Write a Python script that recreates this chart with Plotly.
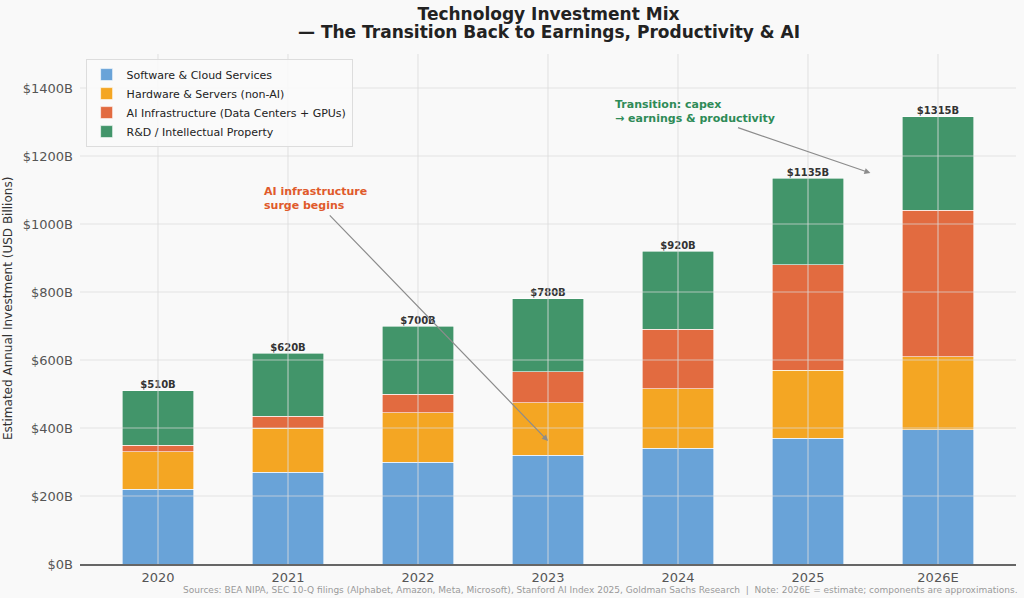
import plotly.graph_objects as go

# Data (USD billions)
years = ["2020", "2021", "2022", "2023", "2024", "2025", "2026E"]
software = [220, 270, 300, 320, 340, 370, 395]
hardware = [110, 130, 145, 155, 175, 200, 215]
ai_infra = [20, 35, 55, 90, 175, 310, 430]
rnd = [160, 185, 200, 215, 230, 255, 275]

y_ticks = [0, 200, 400, 600, 800, 1000, 1200, 1400]
y_ticktext = ["$0B", "$200B", "$400B", "$600B", "$800B", "$1000B", "$1200B", "$1400B"]

series = [
    ("Software & Cloud Services", software, "#69a3d8"),
    ("Hardware & Servers (non-AI)", hardware, "#f4a623"),
    ("AI Infrastructure (Data Centers + GPUs)", ai_infra, "#e26b40"),
    ("R&D / Intellectual Property", rnd, "#42956a"),
]

totals = [a + b + c + d for a, b, c, d in zip(software, hardware, ai_infra, rnd)]

fig = go.Figure()

for name, vals, color in series:
    fig.add_trace(go.Bar(
        x=years, y=vals, name=name,
        marker=dict(color=color, line=dict(color="white", width=0.6)),
        width=0.55,
    ))

# total labels above each bar
fig.add_trace(go.Scatter(
    x=years, y=totals, mode="text",
    text=[f"${t}B" for t in totals],
    textposition="top center",
    textfont=dict(family="DejaVu Sans", size=10, color="#333333", weight="bold"),
    showlegend=False, hoverinfo="skip",
))

# grid drawn on top of the bars (matplotlib style); category index for x
grid_col = "rgba(220,220,220,0.7)"
for i, _ in enumerate(years):
    fig.add_shape(type="line", xref="x", yref="paper", x0=i, x1=i, y0=0, y1=1,
                  line=dict(color=grid_col, width=1.2), layer="above")
for t in y_ticks[1:]:
    fig.add_shape(type="line", xref="paper", yref="y", x0=0, x1=1, y0=t, y1=t,
                  line=dict(color=grid_col, width=1.2), layer="above")

# annotations
fig.add_annotation(
    x=0.8, y=1076, xref="x", yref="y",
    text="<b>AI infrastructure<br>surge begins</b>",
    showarrow=False, xanchor="left", yanchor="middle", align="left",
    font=dict(family="DejaVu Sans", size=11, color="#e05a2b"),
)
fig.add_annotation(
    x=3.0, y=362, ax=1.31, ay=1030, xref="x", yref="y", axref="x", ayref="y",
    text="", showarrow=True, arrowhead=2, arrowsize=1, arrowwidth=1.2,
    arrowcolor="#8c8c8c",
)
fig.add_annotation(
    x=3.5, y=1330, xref="x", yref="y",
    text="<b>Transition: capex<br>→ earnings & productivity</b>",
    showarrow=False, xanchor="left", yanchor="middle", align="left",
    font=dict(family="DejaVu Sans", size=11, color="#2e8b57"),
)
fig.add_annotation(
    x=5.48, y=1150, ax=4.45, ay=1285, xref="x", yref="y", axref="x", ayref="y",
    text="", showarrow=True, arrowhead=2, arrowsize=1, arrowwidth=1.2,
    arrowcolor="#8c8c8c",
)

# second title line (32 px from the top; plot area starts at 54 px, 510 px tall)
fig.add_annotation(
    x=(548.5 - 80) / 936, y=1 + (54 - 32) / 510, xref="paper", yref="paper",
    text="<b>— The Transition Back to Earnings, Productivity & AI</b>",
    showarrow=False, xanchor="center", yanchor="middle",
    font=dict(family="DejaVu Sans", size=17, color="#222222"),
)

# y axis title
fig.add_annotation(
    x=(8 - 80) / 936, y=0.5, xref="paper", yref="paper",
    text="Estimated Annual Investment (USD Billions)", textangle=-90,
    showarrow=False, xanchor="center", yanchor="middle",
    font=dict(family="DejaVu Sans", size=12, color="#333333"),
)

# sources note
fig.add_annotation(
    x=1.004, y=-0.051, xref="paper", yref="paper",
    text="Sources: BEA NIPA, SEC 10-Q filings (Alphabet, Amazon, Meta, Microsoft), "
         "Stanford AI Index 2025, Goldman Sachs Research  |  "
         "Note: 2026E = estimate; components are approximations.",
    showarrow=False, xanchor="right", yanchor="middle",
    font=dict(family="DejaVu Sans", size=9, color="#999999"),
)

fig.update_layout(
    barmode="stack",
    width=1024, height=598,
    margin=dict(l=80, r=8, t=54, b=34),
    paper_bgcolor="#f9f9f9",
    plot_bgcolor="#f9f9f9",
    font=dict(family="DejaVu Sans", color="#333333"),
    hovermode=False,
    title=dict(
        text="<b>Technology Investment Mix</b>",
        x=548.5 / 1024, xanchor="center", y=1 - 14 / 598, yref="container", yanchor="middle",
        font=dict(family="DejaVu Sans", size=17, color="#222222"),
    ),
    legend=dict(
        x=0.006, y=0.99, xanchor="left", yanchor="top",
        traceorder="normal",
        bgcolor="rgba(249,249,249,0.9)", bordercolor="#dddddd", borderwidth=1,
        font=dict(family="DejaVu Sans", size=11, color="#222222"),
        tracegroupgap=0,
    ),
    bargap=0.45,
)

fig.update_xaxes(
    type="category", range=[-0.6, 6.6],
    showgrid=False,
    showline=True, linecolor="#666666", linewidth=2,
    ticks="", tickfont=dict(size=13, color="#555555"),
    layer="above traces",
)
fig.update_yaxes(
    range=[0, 1500], tickvals=y_ticks, ticktext=y_ticktext,
    showgrid=False, zeroline=False, showline=False,
    tickfont=dict(size=13, color="#555555"),
    ticklabelstandoff=6,
    automargin=False,
)

fig.write_html("out.html",
               config={"displayModeBar": False},
               post_script="document.body.style.margin='0';document.body.style.padding='0';")
